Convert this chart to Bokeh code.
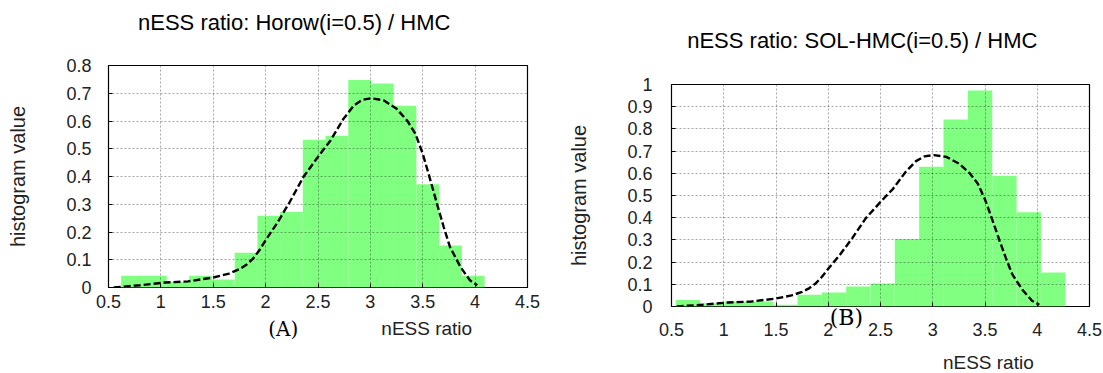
from bokeh.plotting import figure
from bokeh.models import Range1d, FixedTicker, CustomJSTickFormatter
from bokeh.core.properties import value
from bokeh.layouts import row
from bokeh.embed import file_html
from bokeh.resources import INLINE

# ---------------- data ----------------
title_a = "nESS ratio: Horow(i=0.5) / HMC"
title_b = "nESS ratio: SOL-HMC(i=0.5) / HMC"
x_label = "nESS ratio"
y_label = "histogram value"

x_ticks = [0.5, 1, 1.5, 2, 2.5, 3, 3.5, 4, 4.5]
y_ticks_a = [0, 0.1, 0.2, 0.3, 0.4, 0.5, 0.6, 0.7, 0.8]
y_ticks_b = [0, 0.1, 0.2, 0.3, 0.4, 0.5, 0.6, 0.7, 0.8, 0.9, 1]

edges_a = [0.621, 0.838, 1.055, 1.271, 1.488, 1.705, 1.922, 2.138, 2.355,
           2.572, 2.789, 3.006, 3.222, 3.439, 3.656, 3.873, 4.090]
hist_a = [0.042, 0.042, 0.020, 0.042, 0.029, 0.125, 0.259, 0.272, 0.532,
          0.547, 0.748, 0.735, 0.655, 0.372, 0.151, 0.042]

edges_b = [0.541, 0.774, 1.007, 1.240, 1.473, 1.706, 1.938, 2.171, 2.404,
           2.637, 2.870, 3.103, 3.336, 3.569, 3.802, 4.035, 4.267]
hist_b = [0.029, 0.015, 0.023, 0.023, 0.008, 0.053, 0.063, 0.090, 0.104,
          0.304, 0.630, 0.842, 0.973, 0.589, 0.424, 0.153]

# reference density (HMC), dashed
curve_x = [0.55, 0.8, 1.04, 1.26, 1.5, 1.65, 1.75, 1.82, 1.88, 1.94, 2.01,
           2.11, 2.23, 2.36, 2.51, 2.62, 2.74, 2.84, 2.92, 3.01, 3.13, 3.25,
           3.35, 3.43, 3.5, 3.56, 3.64, 3.7, 3.76, 3.86, 3.95, 4.02]
curve_y = [0.0, 0.008, 0.018, 0.022, 0.036, 0.050, 0.066, 0.083, 0.104,
           0.134, 0.176, 0.232, 0.308, 0.398, 0.476, 0.53, 0.606, 0.655,
           0.676, 0.682, 0.674, 0.644, 0.602, 0.554, 0.482, 0.404, 0.296,
           0.218, 0.146, 0.074, 0.026, 0.008]

FONT = "Liberation Sans"
GREEN = "#80ff80"


def make_fig(width, bl, br, ymax, yticks, edges, hist, xstand, ystand,
             margin):
    p = figure(width=width, height=354, output_backend="svg",
               toolbar_location=None, title=None,
               x_range=Range1d(0.5, 4.5), y_range=Range1d(0, ymax),
               min_border_left=bl, min_border_right=br,
               min_border_top=65, min_border_bottom=67, margin=margin)
    p.background_fill_color = "white"
    p.border_fill_color = "white"
    p.outline_line_color = "black"
    p.outline_line_width = 1.2

    p.quad(left=edges[:-1], right=edges[1:], top=hist,
           bottom=[0] * len(hist), fill_color=GREEN, line_color=None)
    p.line(curve_x, curve_y, line_color="black", line_width=2.4,
           line_dash="7 3")

    fmt = CustomJSTickFormatter(code="return Number(tick.toFixed(2)).toString();")
    p.xaxis.ticker = FixedTicker(ticks=x_ticks)
    p.yaxis.ticker = FixedTicker(ticks=yticks)
    p.xaxis.formatter = fmt
    p.yaxis.formatter = fmt

    for ax in (p.xaxis[0], p.yaxis[0]):
        ax.axis_line_color = None
        ax.major_tick_in = 4
        ax.major_tick_out = 0
        ax.major_tick_line_color = "black"
        ax.minor_tick_line_color = None
        ax.major_label_text_font = FONT
        ax.major_label_text_font_size = "18px"
        ax.major_label_text_color = "#222222"
    p.xaxis.major_label_standoff = xstand
    p.yaxis.major_label_standoff = ystand

    p.yaxis.axis_label = y_label
    p.yaxis.axis_label_text_font = FONT
    p.yaxis.axis_label_text_font_style = "normal"
    p.yaxis.axis_label_text_font_size = "20px"
    p.yaxis.axis_label_text_color = "#222222"
    p.yaxis.axis_label_standoff = 34

    for g in (p.xgrid[0], p.ygrid[0]):
        g.grid_line_color = "black"
        g.grid_line_alpha = 0.35
        g.grid_line_dash = "2 2"
        g.grid_line_width = 1
        g.level = "overlay"
    return p


def add_text(p, x, y, txt, font, size, color):
    p.text(x=[x], y=[y], text=[txt], text_font=value(font),
           text_font_size=value(size), text_align="center",
           text_baseline="middle", text_color=color, level="overlay")


p1 = make_fig(552, 108, 25, 0.8, y_ticks_a, edges_a, hist_a, 7, 17,
              (0, 0, 19, 0))
p2 = make_fig(551, 119, 14, 1.0, y_ticks_b, edges_b, hist_b, 16, 19,
              (19, 0, 0, 0))

add_text(p1, 2.273, 0.9545, title_a, FONT, "22px", "black")
add_text(p1, 3.538, -0.1466, x_label, FONT, "19px", "#222222")
add_text(p1, 2.168, -0.150, "(A)", "DejaVu Serif", "20px", "black")

add_text(p2, 2.326, 1.198, title_b, FONT, "22px", "black")
add_text(p2, 3.532, -0.252, x_label, FONT, "19px", "#222222")
add_text(p2, 2.173, -0.0487, "(B)", "DejaVu Serif", "22px", "black")

layout = row(p1, p2)
open("out.html", "w").write(file_html(layout, INLINE))
